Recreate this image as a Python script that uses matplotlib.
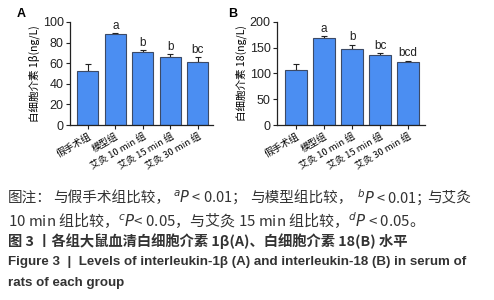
import matplotlib
matplotlib.use('Agg')
import matplotlib.pyplot as plt

plt.rcParams['font.family'] = ['Noto Sans CJK SC', 'DejaVu Sans']
plt.rcParams['mathtext.fontset'] = 'dejavusans'

groups = ['假手术组', '模型组', '艾灸 10 min 组', '艾灸 15 min 组', '艾灸 30 min 组']
il1b_mean = [52, 88, 70.5, 66, 61.5]
il1b_err = [7, 1, 2, 2.5, 4.5]
il1b_sig = ['', 'a', 'b', 'b', 'bc']
il18_mean = [106, 169, 148, 135, 122]
il18_err = [12, 3, 8, 5, 3]
il18_sig = ['', 'a', 'b', 'bc', 'bcd']

# caption pieces (justified first line is placed piece by piece)
note_line1 = ['图注：', '与假手术组比较，', r'$^{a}P$ < 0.01；', '与模型组比较，',
              r'$^{b}P$ < 0.01；', '与艾灸']
note_line2 = r'10 min 组比较，$^{c}P$< 0.05，与艾灸 15 min 组比较，$^{d}P$ < 0.05。'
title_cn = '图 3 丨各组大鼠血清白细胞介素 1β(A)、白细胞介素 18(B) 水平'
title_en = ['Figure 3  |  Levels of interleukin-1β (A) and interleukin-18 (B) in serum of',
            'rats of each group']

BAR = '#4b8ef2'
EDGE = '#3c4a66'

fig = plt.figure(figsize=(4.94, 3.0), dpi=100)
axA = fig.add_axes([0.1417, 0.5833, 0.2895, 0.3434])
axB = fig.add_axes([0.5607, 0.5833, 0.2996, 0.3434])


def draw(ax, means, errs, sigs, ymax, step, ylabel, xlim):
    xs = range(len(means))
    ax.bar(xs, means, width=0.77, color=BAR, edgecolor=EDGE, linewidth=0.8, zorder=2)
    ax.errorbar(xs, means, yerr=[[0] * len(errs), errs], fmt='none', ecolor='#222222',
                elinewidth=0.8, capsize=2.5, capthick=0.8, zorder=1)
    for x, m, e, s in zip(xs, means, errs, sigs):
        if s:
            ax.text(x, m + e + ymax * 0.012, s, ha='center', va='bottom', fontsize=8.5,
                    family='Liberation Sans', color='#222222')
    ax.set_ylim(0, ymax)
    ax.set_xlim(*xlim)
    ax.set_yticks(range(0, ymax + 1, step))
    ax.set_xticks(list(xs))
    ax.set_xticklabels(groups, rotation=30, ha='right', rotation_mode='anchor', fontsize=6.8)
    for lab in ax.get_yticklabels():
        lab.set_family('Liberation Sans')
        lab.set_fontsize(9)
        lab.set_color('#222222')
    ax.spines['top'].set_visible(False)
    ax.spines['right'].set_visible(False)
    for sp in ('left', 'bottom'):
        ax.spines[sp].set_linewidth(0.9)
        ax.spines[sp].set_color('#222222')
    ax.tick_params(length=3, width=0.8, pad=1.5, color='#222222')
    ax.set_ylabel(ylabel, fontsize=7.6, labelpad=2)


draw(axA, il1b_mean, il1b_err, il1b_sig, 100, 20, '白细胞介素 1β(ng/L)', (-0.65, 4.55))
draw(axB, il18_mean, il18_err, il18_sig, 200, 50, '白细胞介素 18(ng/L)', (-0.68, 4.6))

fig.text(17 / 494, 1 - 17 / 300, 'A', fontsize=9, fontweight='bold', family='Liberation Sans')
fig.text(228 / 494, 1 - 17 / 300, 'B', fontsize=9, fontweight='bold', family='Liberation Sans')

cap = dict(fontsize=10.5, color='#333333', va='center')
for xpix, piece in zip([8, 53, 173, 250, 357, 427], note_line1):
    fig.text(xpix / 494, 1 - 198 / 300, piece, **cap)
fig.text(8 / 494, 1 - 221 / 300, note_line2, fontsize=10.8, color='#333333', va='center')
fig.text(8 / 494, 1 - 241 / 300, title_cn,
         fontsize=10.3, fontweight='bold', color='#333333', va='center')
for ypix, line in zip([262, 283], title_en):
    fig.text(8 / 494, 1 - ypix / 300, line, fontsize=9.6, fontweight='bold',
             color='#333333', va='center', family='Liberation Sans')

fig.savefig('out.png', dpi=100)
